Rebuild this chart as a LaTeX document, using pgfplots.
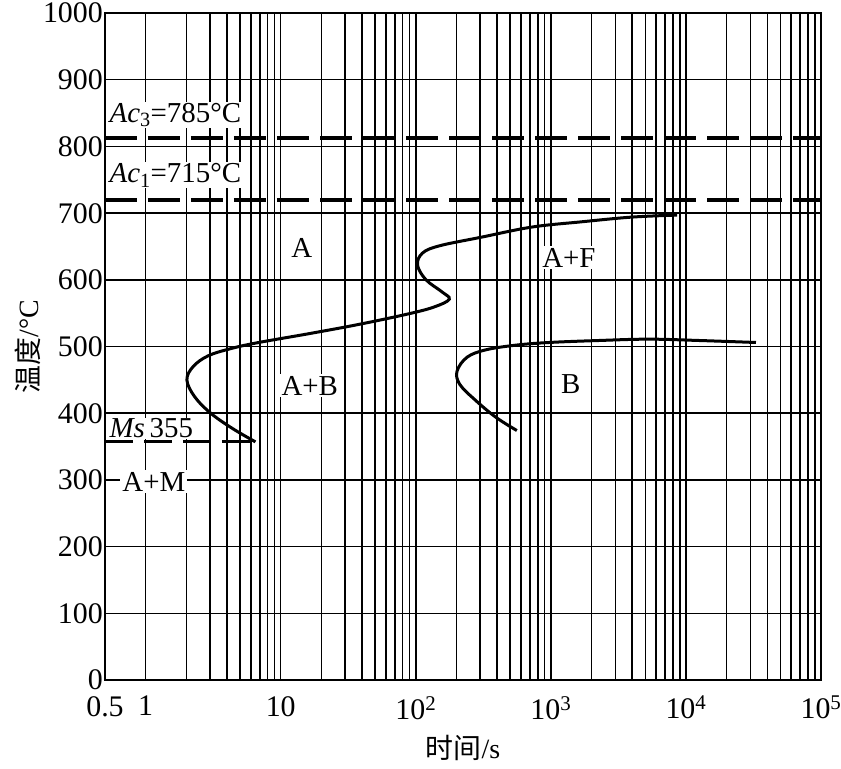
\documentclass[border=0pt]{standalone}
\usepackage{pgfplots}
\pgfplotsset{compat=1.18}
\usepackage{fontspec}
\setmainfont{Liberation Serif}
\newfontfamily\cjk{Noto Sans CJK SC}
\usetikzlibrary{calc}
\begin{document}
\begin{tikzpicture}
\begin{axis}[
  name=ax,
  xmode=log, log basis x=10,
  xmin=0.5, xmax=100000, ymin=0, ymax=1000,
  scale only axis, width=716bp, height=667bp,
  xtick={0.5,1,10,100,1000,10000,100000},
  xticklabels={0.5,1,10,10\textsuperscript{2},10\textsuperscript{3},10\textsuperscript{4},10\textsuperscript{5}},
  minor xtick={2,3,4,5,6,7,8,9,20,30,40,50,60,70,80,90,200,300,400,500,600,700,800,900,2000,3000,4000,5000,6000,7000,8000,9000,20000,30000,40000,50000,60000,70000,80000,90000},
  ytick={0,100,...,1000},
  /pgf/number format/assume math mode=true,
  /pgf/number format/set thousands separator={},
  tick label style={font=\fontsize{30}{34}\selectfont, inner sep=1bp},
  yticklabel style={xshift=-1bp, text depth=0pt},
  xticklabel style={yshift=-15bp},
  major tick length=0pt, minor tick length=0pt,
  xmajorgrids, xminorgrids, ymajorgrids,
  grid style={black, line width=1.5bp},
  minor grid style={black, line width=1.5bp},
  axis line style={black, line width=1.7bp},
  xlabel={{\cjk 时间}/s},
  ylabel={{\cjk 温度}/°C},
  label style={font=\fontsize{28}{32}\selectfont},
  xlabel style={yshift=-11bp},
  ylabel style={yshift=-2bp},
  clip=false,
]
% dashed critical lines
\addplot[black, line width=4bp, dash pattern=on 32bp off 11bp] coordinates {(0.5,812) (100000,812)};
\addplot[black, line width=4bp, dash pattern=on 32bp off 11bp] coordinates {(0.5,720) (100000,720)};
\addplot[black, line width=3bp, dash pattern=on 28bp off 11bp] coordinates {(0.5,357) (6.5,357)};
% upper C-curve
\addplot[black, line width=3bp, smooth, tension=0.6] coordinates {
 (6.5,357) (4.4,377) (3.03,400) (2.3,425) (2.02,450) (2.25,470) (2.9,486) (4.3,497)
 (6.87,506) (17,520) (39.8,534) (93,550) (140,560) (177,571) (156,582) (119,600)
 (103,622) (112,640) (150,651) (308,664) (721,679) (1700,687) (3980,694) (8600,697)
};
% lower curve (B)
\addplot[black, line width=3bp, smooth, tension=0.6] coordinates {
 (560,374) (391,394) (278,419) (212,443) (202,463) (240,484) (330,495) (550,502)
 (967,506) (2270,509) (5320,511) (12500,509) (33000,506)
};
% region labels
\tikzset{lab/.style={fill=white, inner sep=2bp, font=\fontsize{29}{32}\selectfont}}
\node[lab] at (axis cs:14.3,647) {A};
\node[lab] at (axis cs:1360,633) {A+F};
\node[lab] at (axis cs:16.4,441) {A+B};
\node[lab] at (axis cs:1406,443) {B};
\node[lab] at (axis cs:1.15,297) {A+M};
\node[lab, anchor=south west, inner sep=1bp] at (axis cs:0.53,361) {\textit{Ms}\,355};
\node[lab, anchor=west, inner sep=1bp] at (axis cs:0.53,847) {\textit{Ac}\textsubscript{3}=785°C};
\node[lab, anchor=west, inner sep=1bp] at (axis cs:0.53,757) {\textit{Ac}\textsubscript{1}=715°C};
\end{axis}
\pgfresetboundingbox
\path[use as bounding box] ($(ax.south west)+(-105bp,-89bp)$) rectangle ($(ax.north east)+(20bp,13bp)$);
\end{tikzpicture}
\end{document}
